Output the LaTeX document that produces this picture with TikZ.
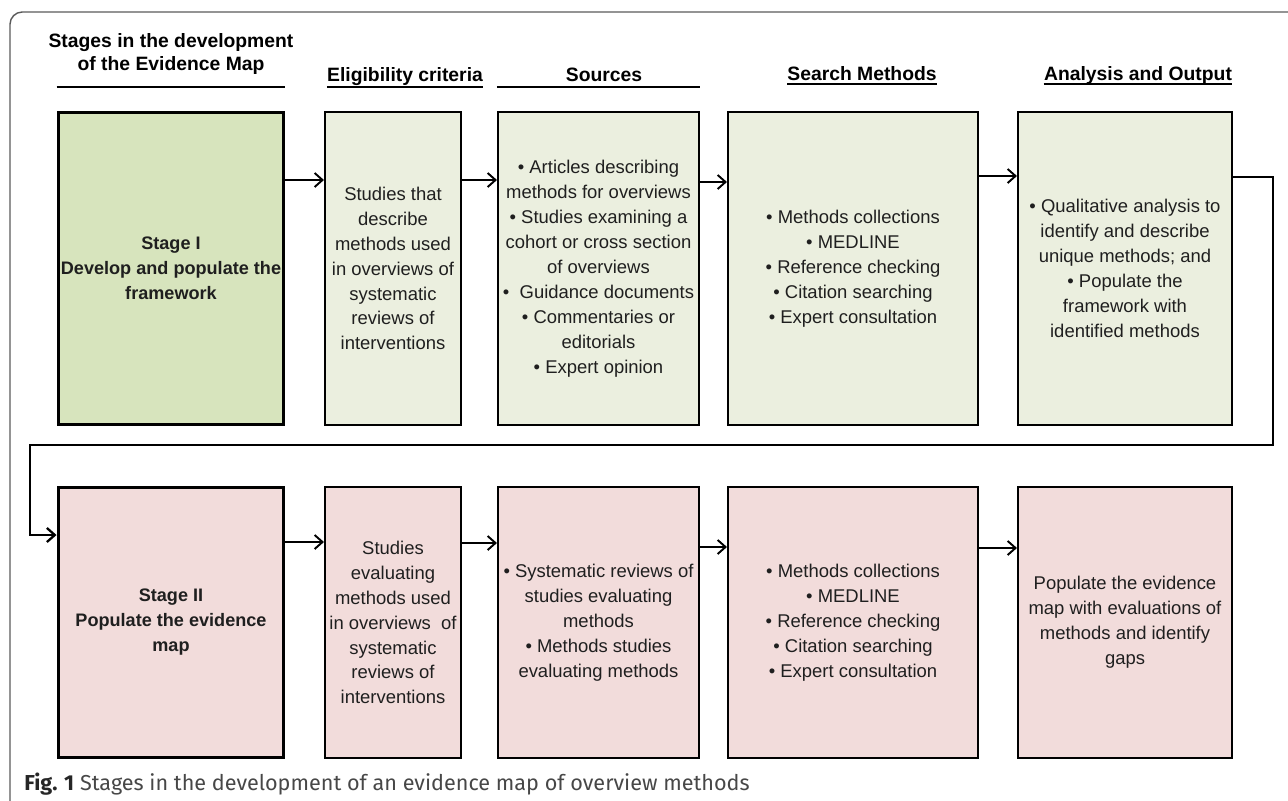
\documentclass[tikz,border=0pt]{standalone}
\usepackage{fontspec}
\setmainfont{Liberation Sans}
\newfontfamily\capfont{Fira Sans}
\usetikzlibrary{arrows.meta}

\definecolor{stagegreen}{HTML}{D7E4BD}
\definecolor{rowgreen}{HTML}{EBEFDF}
\definecolor{rowpink}{HTML}{F2DCDB}
\definecolor{framegray}{HTML}{5A5A5A}

\begin{document}
\begin{tikzpicture}[x=0.02cm, y=-0.02cm,
        box/.style={draw, line width=1.2pt, align=center, inner sep=0pt,
            font=\fontsize{10.5}{14.2}\selectfont, text=black!88},
        stagebox/.style={box, line width=1.7pt,
            font=\fontsize{10.3}{14.2}\selectfont\bfseries},
        head/.style={anchor=base, inner sep=0pt, align=center,
            font=\fontsize{11}{13}\selectfont\bfseries},
        arr/.style={-{Straight Barb[length=4.5pt,width=8pt]}, line width=1.1pt},
        rowone/.style={minimum height=6.26cm},
        rowtwo/.style={minimum height=5.42cm},
        colone/.style={minimum width=4.52cm},
        coltwo/.style={minimum width=2.72cm},
        colthree/.style={minimum width=4.02cm},
        colfour/.style={minimum width=5.0cm},
        colfive/.style={minimum width=4.28cm}]
    \useasboundingbox (0,0) rectangle (1288,801);
    \draw[framegray, line width=0.8pt, rounded corners=7pt] (10,801) -- (10,12) -- (1288,12);

    % column headings
    \node[head] (hstage) at (171,70) {Stages in the development\\of the Evidence Map};
    \node[head] (helig) at (405,81) {Eligibility criteria};
    \node[head] (hsrc) at (604,81) {Sources};
    \node[head] (hsearch) at (862,80) {Search Methods};
    \node[head] (hana) at (1138,80) {Analysis and Output};

    % stage I
    \node[stagebox, rowone, colone, fill=stagegreen] (st1) at (171,268.5) {Stage I\\Develop and populate the\\framework};
    \node[box, rowone, coltwo, fill=rowgreen] (el1) at (393,268.5) {Studies that\\describe\\methods used\\in overviews of\\systematic\\reviews of\\interventions};
    \node[box, rowone, colthree, fill=rowgreen] (so1) at (598.5,268.5) {• Articles describing\\methods for overviews\\• Studies examining a\\cohort or cross section\\of overviews\\•\ \ Guidance documents\\• Commentaries or\\editorials\\• Expert opinion};
    \node[box, rowone, colfour, fill=rowgreen] (se1) at (853,268.5) {• Methods collections\\• MEDLINE\\• Reference checking\\• Citation searching\\• Expert consultation};
    \node[box, rowone, colfive, fill=rowgreen] (an1) at (1125,268.5) {• Qualitative analysis to\\identify and describe\\unique methods; and\\• Populate the\\framework with\\identified methods};

    % stage II
    \node[stagebox, rowtwo, colone, fill=rowpink] (st2) at (171,622.5) {Stage II\\Populate the evidence\\map};
    \node[box, rowtwo, coltwo, fill=rowpink] (el2) at (393,622.5) {Studies\\evaluating\\methods used\\in overviews\ \ of\\systematic\\reviews of\\interventions};
    \node[box, rowtwo, colthree, fill=rowpink] (so2) at (598.5,622.5) {• Systematic reviews of\\studies evaluating\\methods\\• Methods studies\\evaluating methods};
    \node[box, rowtwo, colfour, fill=rowpink] (se2) at (853,622.5) {• Methods collections\\• MEDLINE\\• Reference checking\\• Citation searching\\• Expert consultation};
    \node[box, rowtwo, colfive, fill=rowpink] (an2) at (1125,622.5) {Populate the evidence\\map with evaluations of\\methods and identify\\gaps};

    % rules under the headings
    \draw[line width=1.2pt] (st1.west |- 0,87) -- (st1.east |- 0,87);
    \draw[line width=1.2pt] (helig.west |- 0,87) -- (helig.east |- 0,87);
    \draw[line width=1.2pt] (so1.west |- 0,87) -- (so1.east |- 0,87);
    \draw[line width=0.8pt] ([yshift=-2.2pt]hsearch.base west) -- ([yshift=-2.2pt]hsearch.base east);
    \draw[line width=0.8pt] ([yshift=-2.2pt]hana.base west) -- ([yshift=-2.2pt]hana.base east);

    \draw[arr] (st1.east |- 0,180) -- (el1.west |- 0,180);
    \draw[arr] (el1.east |- 0,180) -- (so1.west |- 0,180);
    \draw[arr] (so1.east |- 0,182) -- (se1.west |- 0,182);
    \draw[arr] (se1.east |- 0,176) -- (an1.west |- 0,176);

    \coordinate (turnright) at (1273,445);
    \coordinate (turnleft) at (30,445);
    \draw[arr, line width=1.3pt] (an1.east |- 0,177) -| (turnright) -- (turnleft) |- (st2.west |- 0,535);

    \draw[arr] (st2.east |- 0,542) -- (el2.west |- 0,542);
    \draw[arr] (el2.east |- 0,543) -- (so2.west |- 0,543);
    \draw[arr] (so2.east |- 0,547) -- (se2.west |- 0,547);
    \draw[arr] (se2.east |- 0,548) -- (an2.west |- 0,548);

    \node[anchor=base west, inner sep=0pt, text=black!72,
        font=\capfont\fontsize{12.3}{14}\selectfont] (caption) at (24,790)
        {\textcolor{black!85}{\textbf{Fig. 1}} Stages in the development of an evidence map of overview methods};
\end{tikzpicture}
\end{document}
